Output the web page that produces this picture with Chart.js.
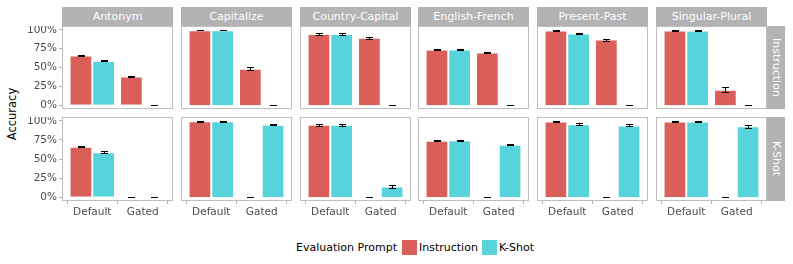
<!DOCTYPE html>
<html>
<head>
<meta charset="utf-8">
<script src="https://cdn.jsdelivr.net/npm/chart.js@4.4.0/dist/chart.umd.min.js"></script>
<style>
  body { margin: 0; width: 793px; height: 264px; background: #fff; position: relative; overflow: hidden; font-family: "DejaVu Sans", sans-serif; }
  canvas { position: absolute; }
  .strip { position: absolute; background: #b3b3b3; color: #fff; font-size: 11px; text-align: center; line-height: 19px; }
  .vstrip { position: absolute; background: #b3b3b3; color: #fff; font-size: 11px; writing-mode: vertical-rl; text-align: center; line-height: 18px; }
  .frame { position: absolute; border: 1px solid #bebebe; box-sizing: border-box; pointer-events: none; }
  .ytitle { position: absolute; left: 12px; top: 114px; transform: translate(-50%, -50%) rotate(-90deg); font-size: 11.5px; color: #000; white-space: nowrap; }
  .legend { position: absolute; top: 240px; left: 296px; height: 15px; font-size: 11px; color: #000; }
  .legend span { position: absolute; top: 0; line-height: 15px; white-space: nowrap; }
  .legend .key { width: 15px; height: 15px; }
</style>
</head>
<body>
<div class="ytitle">Accuracy</div>
<div class="legend">
  <span style="left:0">Evaluation Prompt</span>
  <span class="key" style="left:106px;background:#DA5F58"></span>
  <span style="left:123px">Instruction</span>
  <span class="key" style="left:186px;background:#56D3DB"></span>
  <span style="left:203px">K-Shot</span>
</div>
<script>
// facets
const tasks = ['Antonym', 'Capitalize', 'Country-Capital', 'English-French', 'Present-Past', 'Singular-Plural'];
const rowPrompts = ['Instruction', 'K-Shot'];
const conditions = ['Default', 'Gated'];
const seriesNames = ['Instruction', 'K-Shot'];
const yTicks = [0, 0.25, 0.5, 0.75, 1];

// accuracy per task: [Default, Gated]
// row "Instruction"
const instrRowInstr = [[0.66, 0.38], [0.995, 0.485], [0.945, 0.895], [0.74, 0.70], [0.99, 0.87], [0.99, 0.205]];
const instrRowKshot = [[0.59, 0], [0.995, 0], [0.945, 0], [0.74, 0], [0.95, 0], [0.99, 0]];
// row "K-Shot"
const kshotRowInstr = [[0.66, 0], [0.995, 0], [0.95, 0], [0.74, 0], [0.99, 0], [0.99, 0]];
const kshotRowKshot = [[0.59, 0.004], [0.995, 0.95], [0.95, 0.14], [0.745, 0.685], [0.955, 0.94], [0.99, 0.93]];

// error bar half widths
const instrRowInstrErr = [[0.008, 0.008], [0.004, 0.02], [0.012, 0.015], [0.004, 0.006], [0.004, 0.013], [0.005, 0.03]];
const instrRowKshotErr = [[0.008, 0], [0.004, 0], [0.01, 0], [0.004, 0], [0.01, 0], [0.005, 0]];
const kshotRowInstrErr = [[0.008, 0], [0.004, 0], [0.014, 0], [0.004, 0], [0.004, 0], [0.005, 0]];
const kshotRowKshotErr = [[0.01, 0.004], [0.004, 0.006], [0.014, 0.025], [0.004, 0.005], [0.012, 0.012], [0.005, 0.018]];

const RED = '#DA5F58';
const CYAN = '#56D3DB';

const panelLeft = [62, 181, 300, 418, 537, 656];
const panelW = 111;
const rowTop = [26, 117];
const rowH = [83, 84];
const axisW = 62;
const axisH = 20;

Chart.defaults.font.family = 'DejaVu Sans';

const errorBars = {
  id: 'errorBars',
  afterDatasetsDraw(chart) {
    const ctx = chart.ctx;
    const ys = chart.scales.y;
    chart.data.datasets.forEach((ds, i) => {
      const meta = chart.getDatasetMeta(i);
      meta.data.forEach((bar, j) => {
        const v = ds.data[j].y, e = ds.errs[j];
        const x = Math.round(bar.x) + 0.5;
        const top = Math.round(ys.getPixelForValue(v + e)) + 0.5;
        const bot = Math.round(ys.getPixelForValue(v - e)) + 0.5;
        ctx.save();
        ctx.strokeStyle = '#000';
        ctx.lineWidth = 1;
        ctx.beginPath();
        ctx.moveTo(x, top); ctx.lineTo(x, bot);
        ctx.moveTo(x - 3.5, top); ctx.lineTo(x + 3.5, top);
        ctx.moveTo(x - 3.5, bot); ctx.lineTo(x + 3.5, bot);
        ctx.stroke();
        ctx.restore();
      });
    });
  }
};

function makeSeries(vals, errs, name, color) {
  return {
    label: name,
    data: conditions.map((c, i) => ({ x: i + 1, y: vals[i] })),
    errs: errs,
    backgroundColor: color,
    borderColor: 'rgba(255,255,255,0.35)',
    borderWidth: 1
  };
}

function noPad(s) {
  s.paddingTop = 0; s.paddingBottom = 0; s.paddingLeft = 0; s.paddingRight = 0;
}

function drawPanel(r, c) {
  const showY = c === 0, showX = r === 1;
  const w = panelW + (showY ? axisW : 0);
  const h = rowH[r] + (showX ? axisH : 0);
  const cv = document.createElement('canvas');
  cv.width = w; cv.height = h;
  cv.style.left = (panelLeft[c] - (showY ? axisW : 0)) + 'px';
  cv.style.top = rowTop[r] + 'px';
  document.body.appendChild(cv);

  const a = r === 0 ? [instrRowInstr, instrRowKshot] : [kshotRowInstr, kshotRowKshot];
  const e = r === 0 ? [instrRowInstrErr, instrRowKshotErr] : [kshotRowInstrErr, kshotRowKshotErr];

  new Chart(cv, {
    type: 'bar',
    data: {
      datasets: [
        makeSeries(a[0][c], e[0][c], seriesNames[0], RED),
        makeSeries(a[1][c], e[1][c], seriesNames[1], CYAN)
      ]
    },
    options: {
      responsive: false,
      animation: false,
      events: [],
      layout: { padding: 0 },
      categoryPercentage: 0.9,
      barPercentage: 1,
      plugins: { legend: { display: false }, tooltip: { enabled: false } },
      scales: {
        x: {
          type: 'linear', min: 0.4, max: 2.6, offset: false, display: showX,
          afterBuildTicks: s => { s.ticks = [{ value: 1 }, { value: 2 }]; },
          afterFit: s => { noPad(s); if (showX) s.height = axisH; },
          grid: { display: true, drawOnChartArea: false, drawTicks: true, tickLength: 3, color: '#b3b3b3' },
          border: { display: false },
          ticks: { callback: v => conditions[v - 1], color: '#4d4d4d', font: { size: 10.5 }, padding: 2, maxRotation: 0, autoSkip: false }
        },
        y: {
          min: -0.05, max: 1.05, display: showY,
          afterBuildTicks: s => { s.ticks = yTicks.map(v => ({ value: v })); },
          afterFit: s => { noPad(s); if (showY) s.width = axisW; },
          grid: { display: true, drawOnChartArea: false, drawTicks: true, tickLength: 3, color: '#b3b3b3' },
          border: { display: false },
          ticks: { callback: v => Math.round(v * 100) + '%', color: '#4d4d4d', font: { size: 10.5 }, padding: 2 }
        }
      }
    },
    plugins: [errorBars]
  });

  const fr = document.createElement('div');
  fr.className = 'frame';
  fr.style.left = panelLeft[c] + 'px';
  fr.style.top = rowTop[r] + 'px';
  fr.style.width = panelW + 'px';
  fr.style.height = rowH[r] + 'px';
  document.body.appendChild(fr);
}

tasks.forEach((t, c) => {
  const s = document.createElement('div');
  s.className = 'strip';
  s.textContent = t;
  s.style.left = panelLeft[c] + 'px';
  s.style.top = '7px';
  s.style.width = panelW + 'px';
  s.style.height = '19px';
  document.body.appendChild(s);
});

rowPrompts.forEach((p, r) => {
  const s = document.createElement('div');
  s.className = 'vstrip';
  s.textContent = p;
  s.style.left = (panelLeft[5] + panelW) + 'px';
  s.style.top = rowTop[r] + 'px';
  s.style.width = '18px';
  s.style.height = rowH[r] + 'px';
  document.body.appendChild(s);
});

for (let r = 0; r < 2; r++) {
  for (let c = 0; c < tasks.length; c++) drawPanel(r, c);
}
</script>
</body>
</html>
